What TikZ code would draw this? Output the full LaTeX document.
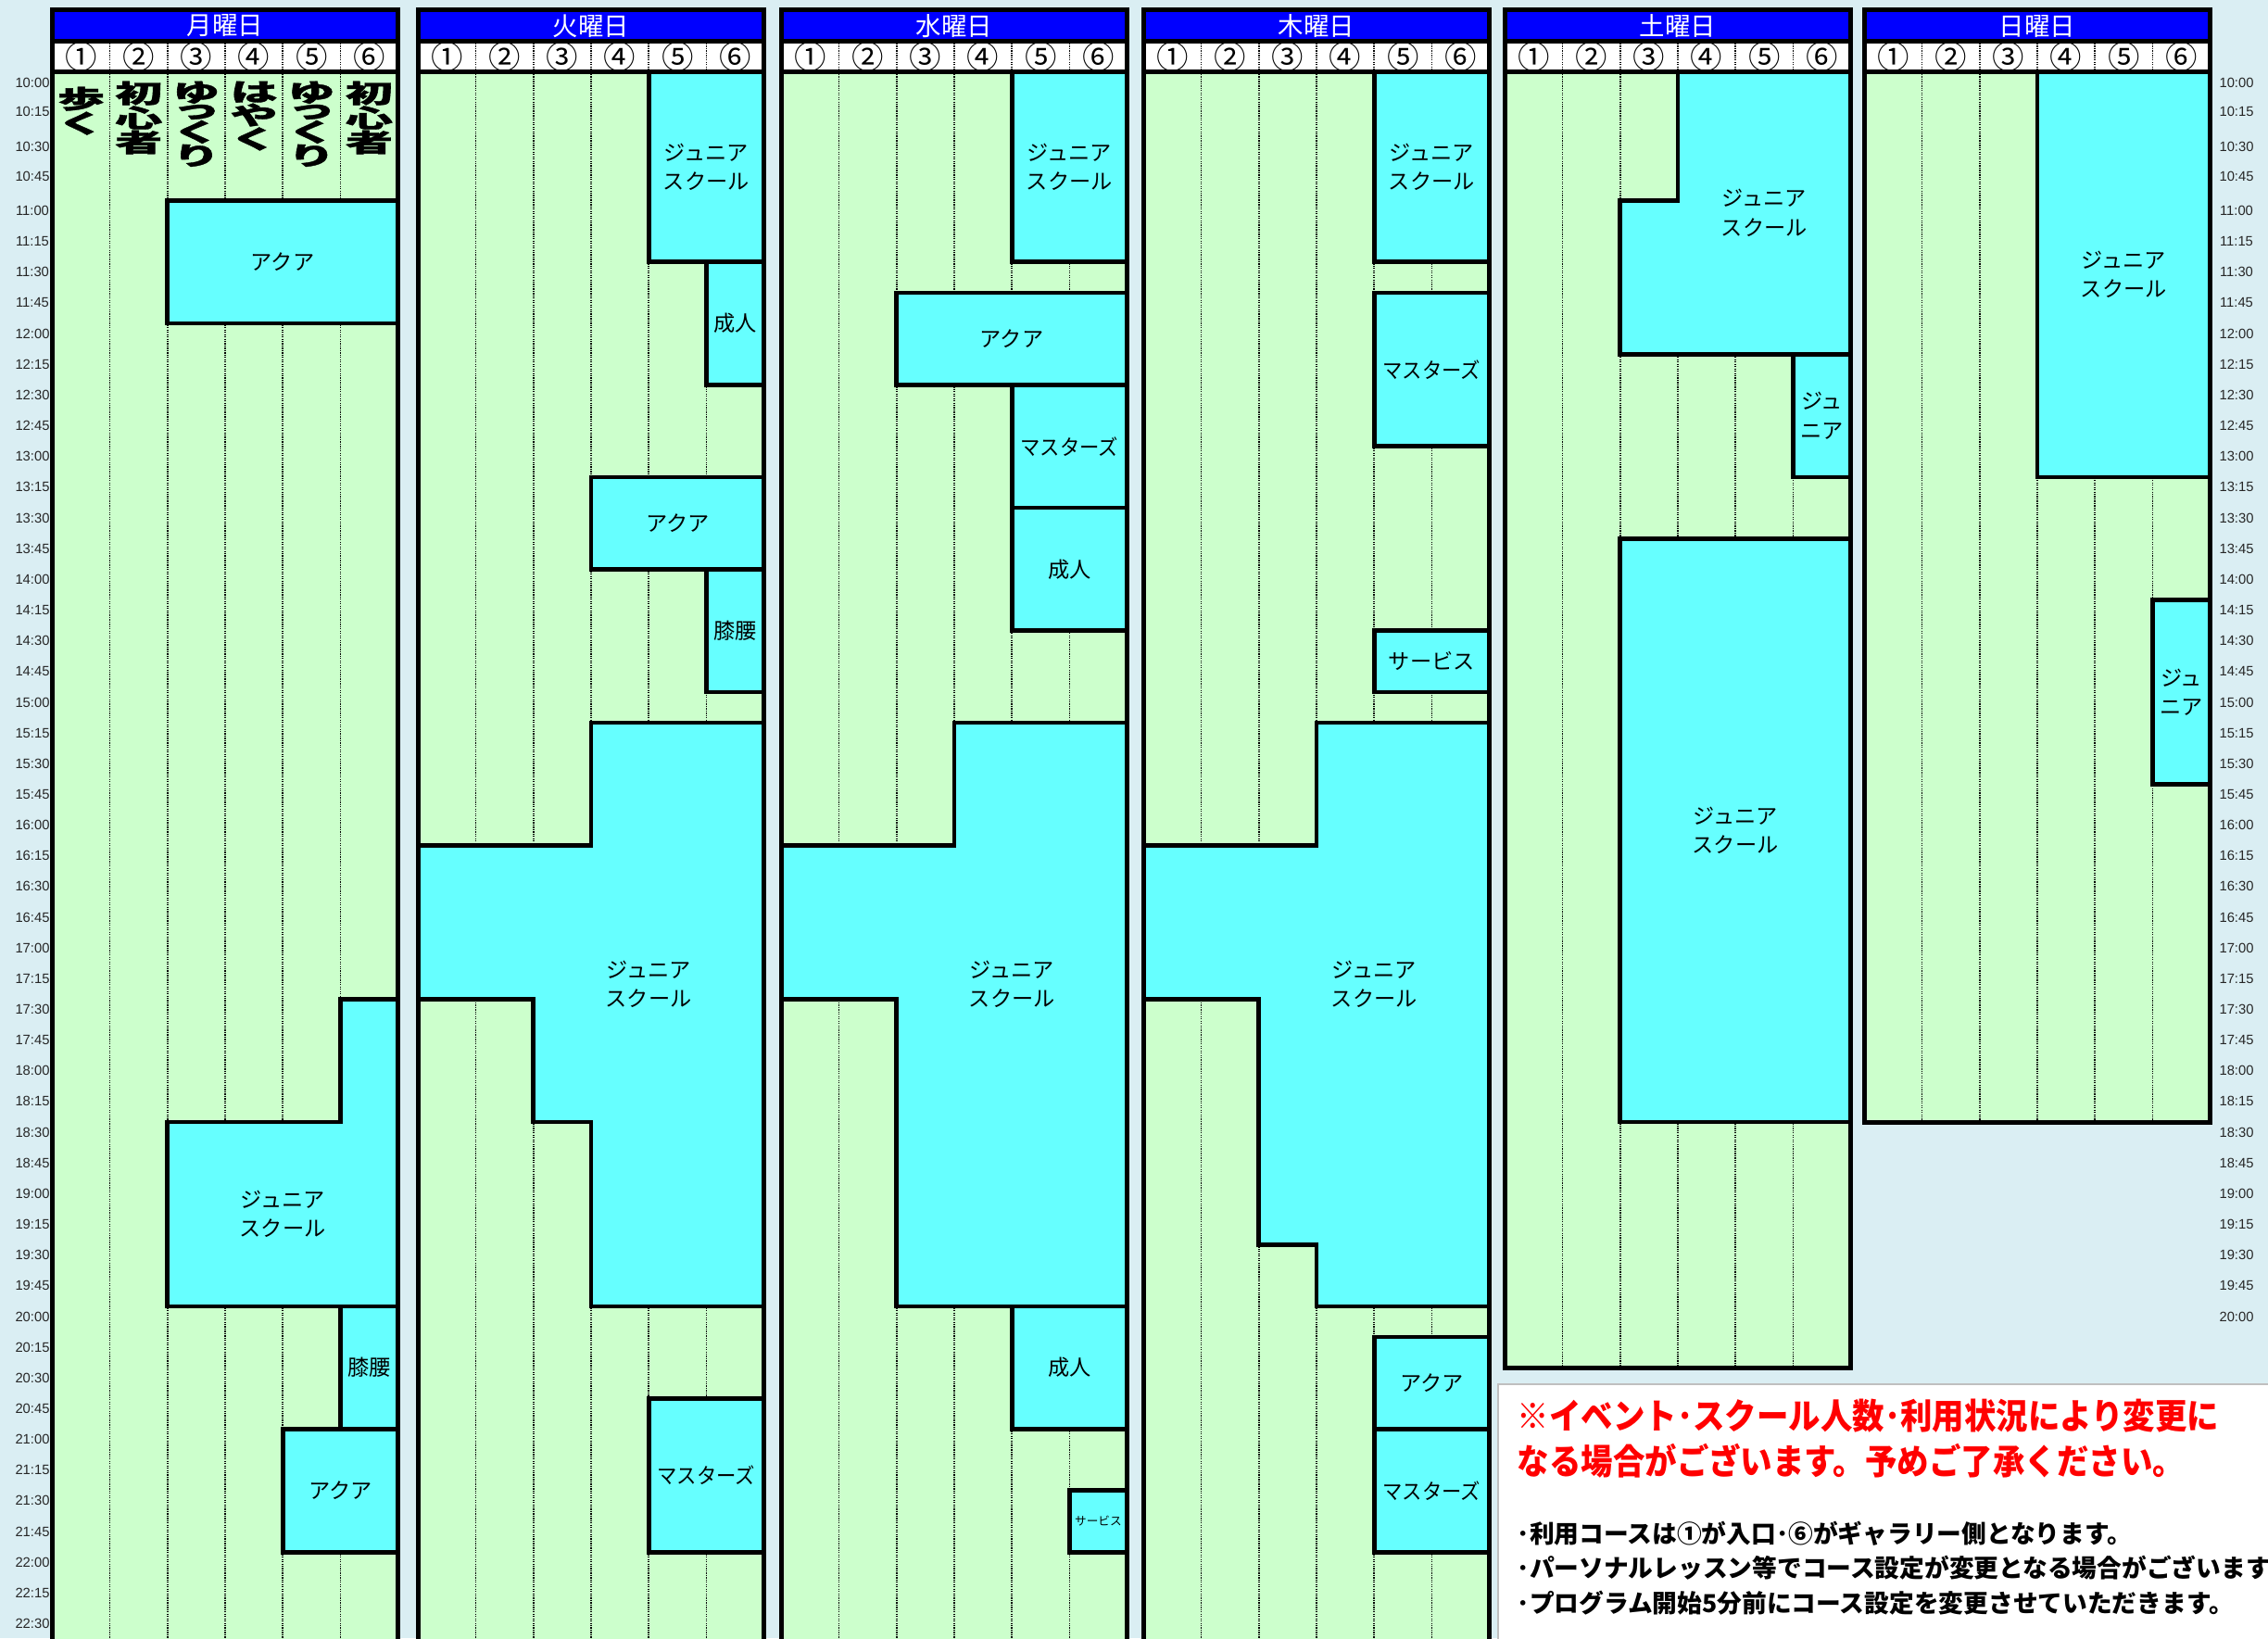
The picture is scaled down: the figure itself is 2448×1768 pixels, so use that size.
\documentclass[tikz,border=0pt]{standalone}
\usepackage{fontspec}
\setmainfont{Liberation Sans}
\newfontfamily\jp{Noto Sans CJK JP}
\definecolor{bg}{HTML}{DAEEF3}
\definecolor{cellg}{HTML}{CCFFCC}
\definecolor{cyanbox}{HTML}{66FFFF}
\definecolor{hdrblue}{HTML}{0000FF}
\newcounter{nn}
\newcommand\vstack[1]{\scalebox{1}[0.53]{\vbox{\baselineskip=-1pt\lineskip=0.5pt\lineskiplimit=0pt\halign{\hfil##\hfil\cr#1\crcr}}}}
\tikzset{
  boxst/.style={fill=cyanbox, draw=black, line width=1.35pt, line join=miter},
  lbl/.style={font=\jp\fontsize{6.6pt}{8.9pt}\selectfont, align=center, inner sep=0pt},
  colline/.style={draw=black, line width=0.45pt, dash pattern=on 0.35pt off 0.35pt},
  tlabel/.style={font=\fontsize{4.2pt}{5pt}\selectfont, text=black!85, inner sep=0pt},
  vlab/.style={anchor=north, inner sep=0pt, font=\jp\bfseries\addfontfeature{FakeBold=1.2}\fontsize{14.5pt}{14.5pt}\selectfont},
  note/.style={anchor=west, inner sep=0pt},
}
\newcommand\drawpanel[3]{%
  \begin{scope}[shift={(#1,0)}]
    \fill[black] (0,8) rectangle (378,#2);
    \fill[hdrblue] (5,13) rectangle (373,42);
    \fill[white] (5,47) rectangle (373,75);
    \fill[cellg] (5,80) rectangle (373,{#2-5});
    \foreach \j in {1,...,5}{
      \draw[colline] ({cb(\j)},47) -- ({cb(\j)},75);
      \draw[colline] ({cb(\j)},80) -- ({cb(\j)},{#2-5});
    }
    \stepcounter{nn}
    \node[inner sep=0pt, text=white, font=\jp\fontsize{7.8pt}{8pt}\selectfont] (d\thenn) at (189,28) {#3};
    \foreach \j/\c in {1/①,2/②,3/③,4/④,5/⑤,6/⑥}{
      \node[inner sep=0pt, font=\jp\fontsize{9.8pt}{10pt}\selectfont] (c\j-\thenn) at ({cb(\j)-31.08},61) {\c};
    }
  \end{scope}}
\newcommand\rbox[5]{%
  \path[boxst] ({cb(#1)},{ty(#3)}) rectangle ({cb(#2)},{ty(#4)});
  \stepcounter{nn}
  \node[lbl] (b\thenn) at ({(cb(#1)+cb(#2))/2},{(ty(#3)+ty(#4))/2}) {#5};}
\begin{document}
\begin{tikzpicture}[x=0.01cm, y=-0.01cm,
  declare function={ty(\k)=(\k==0)?77.5:(216.5+(\k-4)*33.15); cb(\j)=2.5+\j*62.1667;}]
\useasboundingbox (0,0) rectangle (2448,1768);
\clip (0,0) rectangle (2448,1768);
\fill[bg] (0,0) rectangle (2448,1768);

% time labels
\foreach \k in {0,...,50}{
  \pgfmathtruncatemacro\hh{10+floor(\k/4)}
  \pgfmathtruncatemacro\mm{mod(\k,4)*15}
  \pgfmathsetmacro\yy{(\k==0)?89:((\k==1)?120:((\k==2)?158:((\k==3)?190:(ty(\k)+11))))}
  \node[tlabel] (tl\k) at (35,\yy) {\hh:\ifnum\mm=0 00\else\mm\fi};
  \ifnum\k<41
    \node[tlabel] (tr\k) at (2414,\yy) {\hh:\ifnum\mm=0 00\else\mm\fi};
  \fi
}

% Monday
\drawpanel{54}{1800}{月曜日}
\begin{scope}[shift={(54,0)}]
  \node[vlab] (v1) at ({cb(1)-31.08},93) {\vstack{歩\cr く}};
  \node[vlab] (v2) at ({cb(2)-31.08},87) {\vstack{初\cr 心\cr 者}};
  \node[vlab] (v3) at ({cb(3)-31.08},87) {\vstack{ゆ\cr っ\cr く\cr り}};
  \node[vlab] (v4) at ({cb(4)-31.08},87) {\vstack{は\cr や\cr く}};
  \node[vlab] (v5) at ({cb(5)-31.08},87) {\vstack{ゆ\cr っ\cr く\cr り}};
  \node[vlab] (v6) at ({cb(6)-31.08},87) {\vstack{初\cr 心\cr 者}};
  \rbox{2}{6}{4}{8}{アクア}
  \path[boxst] ({cb(5)},{ty(30)}) -- ({cb(6)},{ty(30)}) -- ({cb(6)},{ty(40)}) -- ({cb(2)},{ty(40)}) -- ({cb(2)},{ty(34)}) -- ({cb(5)},{ty(34)}) -- cycle;
  \node[lbl] (mj) at ({(cb(2)+cb(6))/2},{(ty(34)+ty(40))/2}) {ジュニア\\スクール};
  \rbox{5}{6}{40}{44}{膝腰}
  \rbox{4}{6}{44}{48}{アクア}
\end{scope}

% Tuesday
\drawpanel{449}{1800}{火曜日}
\begin{scope}[shift={(449,0)}]
  \rbox{4}{6}{0}{6}{ジュニア\\スクール}
  \rbox{5}{6}{6}{10}{成人}
  \rbox{3}{6}{13}{16}{アクア}
  \rbox{5}{6}{16}{20}{膝腰}
  \path[boxst] ({cb(3)},{ty(21)}) -- ({cb(6)},{ty(21)}) -- ({cb(6)},{ty(40)}) -- ({cb(3)},{ty(40)}) -- ({cb(3)},{ty(34)}) -- ({cb(2)},{ty(34)}) -- ({cb(2)},{ty(30)}) -- ({cb(0)},{ty(30)}) -- ({cb(0)},{ty(25)}) -- ({cb(3)},{ty(25)}) -- cycle;
  \node[lbl] (tj) at (251.2,1062) {ジュニア\\スクール};
  \rbox{4}{6}{43}{48}{\scalebox{0.92}[1]{マスターズ}}
\end{scope}

% Wednesday
\drawpanel{841}{1800}{水曜日}
\begin{scope}[shift={(841,0)}]
  \rbox{4}{6}{0}{6}{ジュニア\\スクール}
  \rbox{2}{6}{7}{10}{アクア}
  \rbox{4}{6}{10}{14}{\scalebox{0.92}[1]{マスターズ}}
  \rbox{4}{6}{14}{18}{成人}
  \path[boxst] ({cb(3)},{ty(21)}) -- ({cb(6)},{ty(21)}) -- ({cb(6)},{ty(40)}) -- ({cb(2)},{ty(40)}) -- ({cb(2)},{ty(30)}) -- ({cb(0)},{ty(30)}) -- ({cb(0)},{ty(25)}) -- ({cb(3)},{ty(25)}) -- cycle;
  \node[lbl] (wj) at (251.2,1062) {ジュニア\\スクール};
  \rbox{4}{6}{40}{44}{成人}
  \rbox{5}{6}{46}{48}{\fontsize{3.6pt}{4pt}\selectfont サービス}
\end{scope}

% Thursday
\drawpanel{1232}{1800}{木曜日}
\begin{scope}[shift={(1232,0)}]
  \rbox{4}{6}{0}{6}{ジュニア\\スクール}
  \rbox{4}{6}{7}{12}{\scalebox{0.92}[1]{マスターズ}}
  \rbox{4}{6}{18}{20}{サービス}
  \path[boxst] ({cb(3)},{ty(21)}) -- ({cb(6)},{ty(21)}) -- ({cb(6)},{ty(40)}) -- ({cb(3)},{ty(40)}) -- ({cb(3)},{ty(38)}) -- ({cb(2)},{ty(38)}) -- ({cb(2)},{ty(30)}) -- ({cb(0)},{ty(30)}) -- ({cb(0)},{ty(25)}) -- ({cb(3)},{ty(25)}) -- cycle;
  \node[lbl] (hj) at (251.2,1062) {ジュニア\\スクール};
  \rbox{4}{6}{41}{44}{アクア}
  \rbox{4}{6}{44}{48}{\scalebox{0.92}[1]{マスターズ}}
\end{scope}

% Saturday
\drawpanel{1622}{1478.7}{土曜日}
\begin{scope}[shift={(1622,0)}]
  \path[boxst] ({cb(3)},{ty(0)}) -- ({cb(6)},{ty(0)}) -- ({cb(6)},{ty(9)}) -- ({cb(2)},{ty(9)}) -- ({cb(2)},{ty(4)}) -- ({cb(3)},{ty(4)}) -- cycle;
  \node[lbl] (sj) at ({(cb(3)+cb(6))/2},{(ty(0)+ty(9))/2}) {ジュニア\\スクール};
  \rbox{5}{6}{9}{13}{ジュ\\ニア}
  \rbox{2}{6}{15}{34}{ジュニア\\スクール}
\end{scope}

% Sunday
\drawpanel{2010}{1213.5}{日曜日}
\begin{scope}[shift={(2010,0)}]
  \rbox{3}{6}{0}{13}{ジュニア\\スクール}
  \rbox{5}{6}{17}{23}{ジュ\\ニア}
\end{scope}

% notes
\fill[white] (1617,1494) rectangle (2470,1790);
\draw[black!25, line width=0.6pt] (1617,1790) -- (1617,1494) -- (2470,1494);
\node[note, text=red, font=\jp\bfseries\fontsize{9.8pt}{10pt}\selectfont] (r1) at (1637,1528) {\scalebox{1}[1.1]{※イベント･スクール人数･利用状況により変更に}};
\node[note, text=red, font=\jp\bfseries\fontsize{9.8pt}{10pt}\selectfont] (r2) at (1637,1577) {\scalebox{1}[1.1]{なる場合がございます。予めご了承ください。}};
\node[note, font=\jp\bfseries\fontsize{7.6pt}{8pt}\selectfont] (k1) at (1637,1655) {･利用コースは①が入口･⑥がギャラリー側となります。};
\node[note, font=\jp\bfseries\fontsize{7.6pt}{8pt}\selectfont] (k2) at (1637,1692) {･パーソナルレッスン等でコース設定が変更となる場合がございます。};
\node[note, font=\jp\bfseries\fontsize{7.6pt}{8pt}\selectfont] (k3) at (1637,1730) {･プログラム開始5分前にコース設定を変更させていただきます。};
\end{tikzpicture}
\end{document}
